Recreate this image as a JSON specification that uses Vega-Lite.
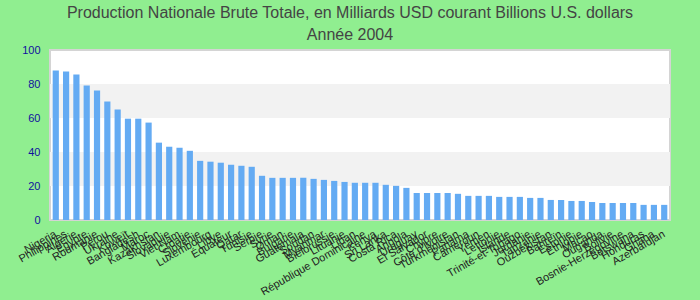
{
  "$schema": "https://vega.github.io/schema/vega-lite/v6.json",
  "width": 620,
  "height": 170,
  "autosize": "none",
  "padding": {"left": 50, "top": 50, "right": 30, "bottom": 80},
  "background": "#90EE90",
  "title": {
    "text": ["Production Nationale Brute Totale, en Milliards USD courant Billions U.S. dollars", "Année 2004"],
    "fontSize": 16,
    "font": "Liberation Sans",
    "fontWeight": "normal",
    "color": "#444444",
    "lineHeight": 22,
    "anchor": "middle",
    "offset": 1,
    "dx": -10
  },
  "config": {
    "view": {"stroke": "#d4d4d4", "strokeWidth": 2, "fill": "#ffffff"},
    "font": "Liberation Sans",
    "axisY": {
      "title": null,
      "values": [0, 20, 40, 60, 80, 100],
      "grid": false,
      "ticks": false,
      "domain": false,
      "labelColor": "#10109e",
      "labelFontSize": 11,
      "labelPadding": 10
    }
  },
  "datasets": {
    "bands": [
      {"lo": 20, "hi": 40},
      {"lo": 60, "hi": 80}
    ],
    "gdp": [
      {"pays": "Nigeria", "valeur": 88.0},
      {"pays": "Philippines", "valeur": 87.4},
      {"pays": "Algérie", "valeur": 85.6},
      {"pays": "Égypte", "valeur": 79.1},
      {"pays": "Roumanie", "valeur": 76.2},
      {"pays": "Pérou", "valeur": 69.7},
      {"pays": "Ukraine", "valeur": 65.0},
      {"pays": "Koweït", "valeur": 59.6},
      {"pays": "Bangladesh", "valeur": 59.6},
      {"pays": "Maroc", "valeur": 57.3},
      {"pays": "Kazakhstan", "valeur": 45.5},
      {"pays": "Slovaquie", "valeur": 43.1},
      {"pays": "Viet Nam", "valeur": 42.5},
      {"pays": "Croatie", "valeur": 40.7},
      {"pays": "Slovénie", "valeur": 34.8},
      {"pays": "Luxembourg", "valeur": 34.3},
      {"pays": "Libye", "valeur": 33.7},
      {"pays": "Équateur", "valeur": 32.5},
      {"pays": "Qatar", "valeur": 31.9},
      {"pays": "Tunisie", "valeur": 31.3},
      {"pays": "Serbie", "valeur": 26.0},
      {"pays": "Syrie", "valeur": 24.8},
      {"pays": "Oman", "valeur": 24.8},
      {"pays": "Bulgarie", "valeur": 24.8},
      {"pays": "Guatemala", "valeur": 24.8},
      {"pays": "Soudan", "valeur": 24.2},
      {"pays": "Myanmar", "valeur": 23.6},
      {"pays": "Biélorussie", "valeur": 23.0},
      {"pays": "Lituanie", "valeur": 22.4},
      {"pays": "Liban", "valeur": 21.9},
      {"pays": "République Dominicaine", "valeur": 21.9},
      {"pays": "Kenya", "valeur": 21.9},
      {"pays": "Sri Lanka", "valeur": 20.7},
      {"pays": "Costa Rica", "valeur": 20.1},
      {"pays": "Angola", "valeur": 18.9},
      {"pays": "Uruguay", "valeur": 15.9},
      {"pays": "El Salvador", "valeur": 15.9},
      {"pays": "Chypre", "valeur": 15.9},
      {"pays": "Côte d'Ivoire", "valeur": 15.9},
      {"pays": "Turkménistan", "valeur": 15.4},
      {"pays": "Panama", "valeur": 14.2},
      {"pays": "Cameroun", "valeur": 14.2},
      {"pays": "Yémen", "valeur": 14.2},
      {"pays": "Lettonie", "valeur": 13.6},
      {"pays": "Islande", "valeur": 13.6},
      {"pays": "Trinité-et-Tobago", "valeur": 13.6},
      {"pays": "Jordanie", "valeur": 13.0},
      {"pays": "Tanzanie", "valeur": 13.0},
      {"pays": "Ouzbékistan", "valeur": 11.8},
      {"pays": "Bahreïn", "valeur": 11.8},
      {"pays": "Estonie", "valeur": 11.2},
      {"pays": "Éthiopie", "valeur": 11.2},
      {"pays": "Macao", "valeur": 10.6},
      {"pays": "Ouganda", "valeur": 10.0},
      {"pays": "Bolivie", "valeur": 10.0},
      {"pays": "Bosnie-Herzégovine", "valeur": 10.0},
      {"pays": "Botswana", "valeur": 10.0},
      {"pays": "Honduras", "valeur": 8.9},
      {"pays": "Ghana", "valeur": 8.9},
      {"pays": "Azerbaïdjan", "valeur": 8.9}
    ]
  },
  "layer": [
    {
      "data": {"name": "bands"},
      "mark": {"type": "rect", "color": "#f2f2f2"},
      "encoding": {
        "y": {"field": "lo", "type": "quantitative", "scale": {"domain": [0, 100], "nice": false}},
        "y2": {"field": "hi"}
      }
    },
    {
      "data": {"name": "gdp"},
      "mark": {"type": "bar", "color": "#64abf3"},
      "encoding": {
        "x": {
          "field": "pays",
          "type": "nominal",
          "sort": null,
          "scale": {"paddingInner": 0.4, "paddingOuter": 0.26},
          "axis": {
            "title": null,
            "labelAngle": -30,
            "labelAlign": "right",
            "labelBaseline": "middle",
            "labelOverlap": false,
            "labelFontSize": 11,
            "labelColor": "#222222",
            "labelPadding": 13,
            "ticks": false,
            "domain": false,
            "labelLimit": 200
          }
        },
        "y": {
          "field": "valeur",
          "type": "quantitative",
          "scale": {"domain": [0, 100], "nice": false}
        }
      }
    }
  ]
}
